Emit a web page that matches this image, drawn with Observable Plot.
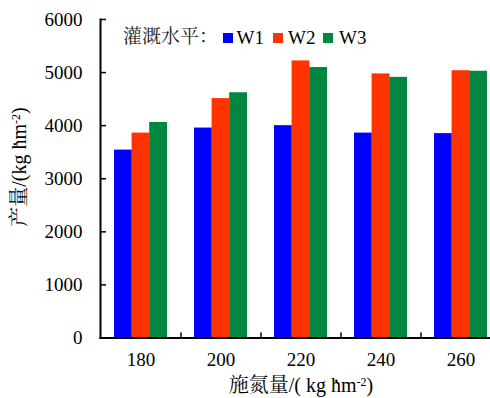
<!DOCTYPE html>
<html><head><meta charset="utf-8">
<script src="https://cdn.jsdelivr.net/npm/d3@7"></script>
<script src="https://cdn.jsdelivr.net/npm/@observablehq/plot@0.6"></script>
<style>
body{margin:0;background:#fff;overflow:hidden}
.abs{position:absolute;white-space:nowrap;line-height:1}
.sq{position:absolute;width:10px;height:10px}
.dot{display:inline-block;width:0;position:relative;left:0.1em;top:-0.2em}
sup{font-size:0.6em;vertical-align:0;position:relative;top:-0.5em}
</style></head><body><div id="wrap" style="position:relative;width:490px;height:398px;color:#000;font-family:'Liberation Serif','Noto Serif CJK SC',serif"></div>
<script>
const nitrogen = ["180", "200", "220", "240", "260"];
const seriesNames = ["W1", "W2", "W3"];
const W1 = [3540, 3955, 4000, 3860, 3850];
const W2 = [3860, 4510, 5220, 4975, 5035];
const W3 = [4060, 4620, 5095, 4910, 5025];
const yTicks = [0, 1000, 2000, 3000, 4000, 5000, 6000];
const colors = ["#0000ff", "#ff3300", "#00873f"];
const legendTitle = "灌溉水平：";
const yTitle = "产量/(kg <span class='dot'>·</span>hm<sup>-2</sup>)";
const xTitle = "施氮量/( kg <span class='dot'>·</span>hm<sup>-2</sup>)";

const SERIF = "Liberation Serif, Noto Serif CJK SC, serif";
const seriesValues = [W1, W2, W3];
const rows = seriesValues.map(vals => nitrogen.map((n, i) => ({n, v: vals[i]})));
const bw = 80 * 0.66 / 3;

const plot = Plot.plot({
  width: 490, height: 398,
  marginLeft: 100, marginRight: -10, marginTop: 19, marginBottom: 60.5,
  style: {fontFamily: SERIF, fontSize: "19px", color: "#000", background: "transparent"},
  x: {domain: nitrogen, paddingInner: 0.34, paddingOuter: 0.17, axis: null},
  y: {domain: [0, 6000], axis: null},
  marks: [
    ...rows.map((data, k) => Plot.barY(data, {
      x: "n", y: "v", fill: colors[k],
      insetLeft: k * bw, insetRight: (2 - k) * bw
    })),
    Plot.axisY(yTicks, {label: null, tickSize: 0, tickPadding: 18, tickFormat: d => String(d), fontSize: 19, fontFamily: SERIF}),
    Plot.axisY(yTicks, {label: null, tickSize: -6, tickFormat: () => "", strokeWidth: 1.5}),
    Plot.axisX(nitrogen, {label: null, tickSize: 0, tickPadding: 14.5, fontSize: 19, fontFamily: SERIF}),
    Plot.axisX(nitrogen, {label: null, tickSize: -5, dx: 40, tickFormat: () => "", strokeWidth: 1.5}),
    Plot.frame({anchor: "left", strokeWidth: 2}),
    Plot.frame({anchor: "bottom", strokeWidth: 2})
  ]
});
plot.style.position = "absolute";
plot.style.left = "0px";
plot.style.top = "0px";
const wrap = document.getElementById("wrap");
wrap.appendChild(plot);

function add(html, style, cls = "abs") {
  const d = document.createElement("div");
  d.className = cls;
  d.innerHTML = html;
  d.style.fontFamily = "'Liberation Serif', 'Noto Serif CJK SC', serif";
  Object.assign(d.style, style);
  wrap.appendChild(d);
}
add(legendTitle, {left: "123px", top: "27px", fontSize: "19px", color: "#222"});
const sqX = [222.7, 273.3, 323.3];
const txX = [236.5, 288, 339];
seriesNames.forEach((s, k) => {
  add("", {left: sqX[k] + "px", top: "33px", background: colors[k]}, "sq");
  add(s, {left: txX[k] + "px", top: "28px", fontSize: "19px"});
});
add(xTitle, {left: "301px", top: "375px", fontSize: "20px", transform: "translateX(-50%)"});
add(yTitle, {left: "18.5px", top: "167px", fontSize: "20px", transform: "translate(-50%,-50%) rotate(-90deg)"});
</script></body></html>
